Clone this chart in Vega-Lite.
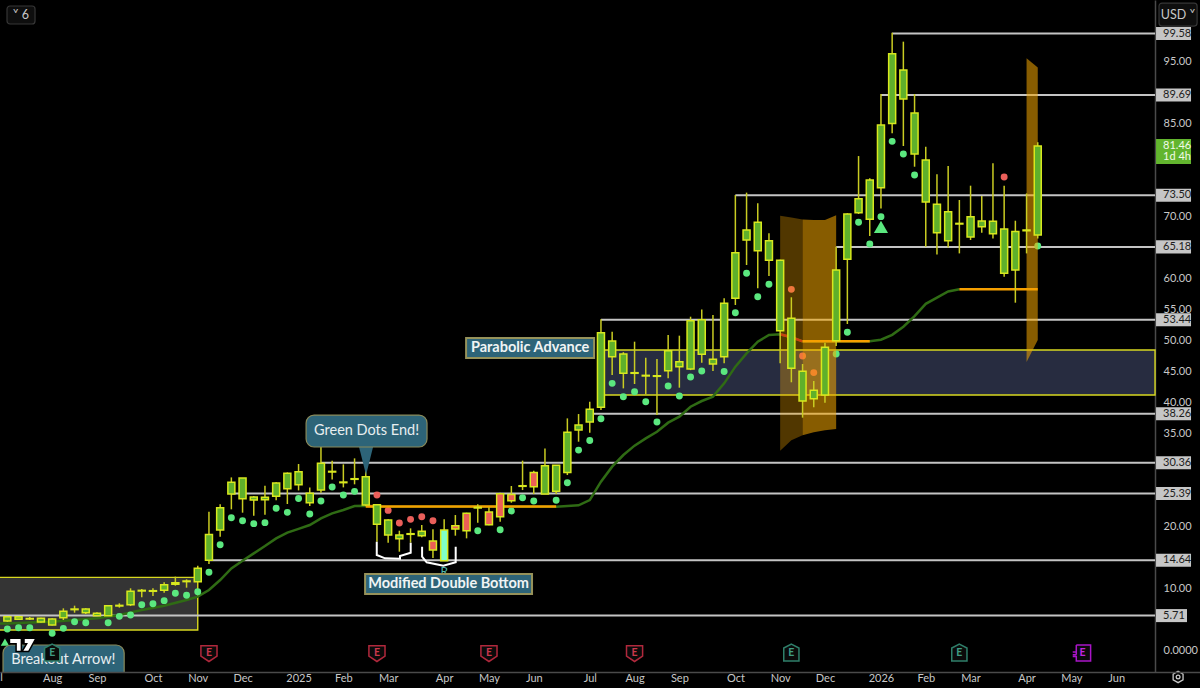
{
"$schema":"https://vega.github.io/schema/vega-lite/v6.json",
"width":1200,"height":688,"autosize":{"type":"none"},"padding":0,"background":"#000000",
"config":{"view":{"stroke":null},"axis":{"grid":false}},
"datasets":{
"boxes":[
{"date":"2024-06-20","date2":"2024-11-04","value":11.88,"value2":3.39,"zone":"base"},
{"date":"2025-07-14","date2":"2026-06-25T07:00:00Z","value":48.56,"value2":41.29,"zone":"parabolic"}],
"levels":[
{"date":"2026-01-12","date2":"2026-06-25T07:00:00Z","value":99.58},
{"date":"2026-01-05","date2":"2026-06-25T07:00:00Z","value":89.69},
{"date":"2025-10-06","date2":"2026-06-25T07:00:00Z","value":73.5},
{"date":"2025-12-08","date2":"2026-06-25T07:00:00Z","value":65.18},
{"date":"2025-07-14","date2":"2026-06-25T07:00:00Z","value":53.44},
{"date":"2025-07-07","date2":"2026-06-25T07:00:00Z","value":38.26},
{"date":"2025-01-20","date2":"2026-06-25T07:00:00Z","value":30.36},
{"date":"2024-11-25","date2":"2026-06-25T07:00:00Z","value":25.39},
{"date":"2024-11-11","date2":"2026-06-25T07:00:00Z","value":14.64},
{"date":"2024-07-03T09:36:00Z","date2":"2026-06-25T07:00:00Z","value":5.71}],
"ma":[
{"date":"2024-07-01","value":4.4},{"date":"2024-07-08","value":4.45},{"date":"2024-07-22","value":4.6},{"date":"2024-08-05","value":4.73},{"date":"2024-08-19","value":5.0},{"date":"2024-09-02","value":5.27},{"date":"2024-09-16","value":5.8},{"date":"2024-09-30","value":6.61},{"date":"2024-10-14","value":7.31},{"date":"2024-10-28","value":8.22},{"date":"2024-11-04","value":8.76},{"date":"2024-11-11","value":9.84},{"date":"2024-11-18","value":11.45},{"date":"2024-11-25","value":13.33},{"date":"2024-12-02","value":14.57},{"date":"2024-12-09","value":15.75},{"date":"2024-12-16","value":16.93},{"date":"2024-12-23","value":18.17},{"date":"2024-12-30","value":19.1},{"date":"2025-01-06","value":19.7},{"date":"2025-01-13","value":20.32},{"date":"2025-01-20","value":21.4},{"date":"2025-01-27","value":22.2},{"date":"2025-02-03","value":22.74},{"date":"2025-02-10","value":23.38},{"date":"2025-02-17","value":23.44},{"date":"2025-02-24","value":23.3},{"date":"2025-06-16","value":23.28},{"date":"2025-06-23","value":23.39},{"date":"2025-06-30","value":23.5},{"date":"2025-07-07","value":24.35},{"date":"2025-07-14","value":27.31},{"date":"2025-07-21","value":29.73},{"date":"2025-07-28","value":31.61},{"date":"2025-08-04","value":33.12},{"date":"2025-08-11","value":34.3},{"date":"2025-08-18","value":35.37},{"date":"2025-08-25","value":36.83},{"date":"2025-09-01","value":37.79},{"date":"2025-09-08","value":39.4},{"date":"2025-09-15","value":40.32},{"date":"2025-09-22","value":41.02},{"date":"2025-09-29","value":43.17},{"date":"2025-10-06","value":45.86},{"date":"2025-10-13","value":48.0},{"date":"2025-10-20","value":49.9},{"date":"2025-10-27","value":50.97},{"date":"2025-11-03","value":51.08},{"date":"2025-11-10","value":50.6},{"date":"2025-11-17","value":49.95},{"date":"2025-12-29","value":49.95},{"date":"2026-01-05","value":50.2},{"date":"2026-01-12","value":51.0},{"date":"2026-01-19","value":52.3},{"date":"2026-01-26","value":54.0},{"date":"2026-02-02","value":56.0},{"date":"2026-02-09","value":57.0},{"date":"2026-02-16","value":58.0},{"date":"2026-02-23","value":58.33}],
"dots":[
{"date":"2024-07-08","value":3.55,"kind":"bull"},{"date":"2024-07-15","value":3.76,"kind":"bull"},{"date":"2024-07-22","value":3.76,"kind":"bull"},{"date":"2024-08-05","value":2.85,"kind":"bull"},{"date":"2024-08-12","value":3.65,"kind":"bull"},{"date":"2024-08-19","value":4.73,"kind":"bull"},{"date":"2024-08-26","value":4.57,"kind":"bull"},{"date":"2024-09-09","value":4.57,"kind":"bull"},{"date":"2024-09-16","value":5.59,"kind":"bull"},{"date":"2024-09-23","value":5.8,"kind":"bull"},{"date":"2024-09-30","value":7.47,"kind":"bull"},{"date":"2024-10-07","value":7.63,"kind":"bull"},{"date":"2024-10-14","value":8.12,"kind":"bull"},{"date":"2024-10-21","value":9.3,"kind":"bull"},{"date":"2024-10-28","value":8.98,"kind":"bull"},{"date":"2024-11-04","value":9.57,"kind":"bull"},{"date":"2024-11-11","value":12.69,"kind":"bull"},{"date":"2024-11-18","value":17.15,"kind":"bull"},{"date":"2024-11-25","value":21.5,"kind":"bull"},{"date":"2024-12-02","value":21.02,"kind":"bull"},{"date":"2024-12-09","value":20.54,"kind":"bull"},{"date":"2024-12-16","value":20.7,"kind":"bull"},{"date":"2024-12-23","value":23.01,"kind":"bull"},{"date":"2024-12-30","value":22.36,"kind":"bull"},{"date":"2025-01-06","value":24.6,"kind":"bull"},{"date":"2025-01-13","value":22.09,"kind":"bull"},{"date":"2025-01-20","value":24.19,"kind":"bull"},{"date":"2025-01-27","value":26.45,"kind":"bull"},{"date":"2025-02-03","value":25.16,"kind":"bull"},{"date":"2025-02-10","value":25.75,"kind":"bull"},{"date":"2025-02-24","value":25.16,"kind":"bear"},{"date":"2025-03-03","value":22.68,"kind":"bear"},{"date":"2025-03-10","value":20.64,"kind":"bear"},{"date":"2025-03-17","value":21.23,"kind":"bear"},{"date":"2025-03-24","value":21.66,"kind":"bear"},{"date":"2025-03-31","value":21.02,"kind":"bear"},{"date":"2025-04-28","value":19.4,"kind":"bull"},{"date":"2025-05-12","value":19.57,"kind":"bull"},{"date":"2025-05-19","value":22.58,"kind":"bull"},{"date":"2025-05-26","value":24.73,"kind":"bull"},{"date":"2025-06-02","value":24.19,"kind":"bull"},{"date":"2025-06-16","value":24.3,"kind":"bull"},{"date":"2025-06-23","value":27.15,"kind":"bull"},{"date":"2025-06-30","value":32.4,"kind":"bull"},{"date":"2025-07-07","value":33.95,"kind":"bull"},{"date":"2025-07-14","value":37.47,"kind":"bull"},{"date":"2025-07-21","value":43.17,"kind":"bull"},{"date":"2025-07-28","value":41.02,"kind":"bull"},{"date":"2025-08-04","value":41.82,"kind":"bull"},{"date":"2025-08-11","value":40.21,"kind":"bull"},{"date":"2025-08-18","value":36.93,"kind":"bull"},{"date":"2025-08-25","value":42.74,"kind":"bull"},{"date":"2025-09-01","value":41.13,"kind":"bull"},{"date":"2025-09-08","value":44.19,"kind":"bull"},{"date":"2025-09-15","value":45.16,"kind":"bull"},{"date":"2025-09-29","value":45.08,"kind":"bull"},{"date":"2025-10-06","value":54.55,"kind":"bull"},{"date":"2025-10-13","value":60.92,"kind":"bull"},{"date":"2025-10-20","value":57.15,"kind":"bull"},{"date":"2025-10-27","value":59.14,"kind":"bull"},{"date":"2025-11-10","value":58.33,"kind":"bear"},{"date":"2025-11-17","value":47.58,"kind":"bear"},{"date":"2025-11-24","value":44.9,"kind":"bear"},{"date":"2025-12-08","value":47.9,"kind":"bull"},{"date":"2025-12-15","value":51.4,"kind":"bull"},{"date":"2025-12-22","value":69.14,"kind":"bull"},{"date":"2025-12-29","value":65.65,"kind":"bull"},{"date":"2026-01-05","value":70.06,"kind":"bull"},{"date":"2026-01-12","value":82.2,"kind":"bull"},{"date":"2026-01-19","value":80.16,"kind":"bull"},{"date":"2026-01-26","value":76.77,"kind":"bull"},{"date":"2026-03-23","value":76.45,"kind":"bear"},{"date":"2026-04-13","value":65.32,"kind":"bull"}],
"bands":[
{"date":"2025-11-03","value":70.2,"value2":32.3,"band":"a","tone":"dark"},{"date":"2025-11-10","value":69.9,"value2":34.0,"band":"a","tone":"dark"},{"date":"2025-11-17","value":69.6,"value2":34.8,"band":"a","tone":"dark"},
{"date":"2025-11-17","value":69.6,"value2":34.8,"band":"b","tone":"light"},{"date":"2025-11-24","value":69.5,"value2":35.3,"band":"b","tone":"light"},{"date":"2025-12-01","value":69.5,"value2":35.6,"band":"b","tone":"light"},{"date":"2025-12-08","value":70.3,"value2":35.8,"band":"b","tone":"light"},
{"date":"2026-04-06","value":95.6,"value2":46.6,"band":"c","tone":"light"},{"date":"2026-04-13","value":94.1,"value2":50.16,"band":"c","tone":"light"}],
"alerts":[
{"date":"2025-02-17","date2":"2025-06-16","value":23.3},
{"date":"2025-11-17","date2":"2025-12-29","value":49.95},
{"date":"2026-02-23","date2":"2026-04-13","value":58.33}],
"alertLead":[
{"date":"2025-02-17","value":23.44,"seg":"a"},{"date":"2025-02-24","value":23.3,"seg":"a"},
{"date":"2025-11-03","value":51.08,"seg":"b"},{"date":"2025-11-10","value":50.6,"seg":"b"},{"date":"2025-11-17","value":49.95,"seg":"b"}],
"candles":[
{"date":"2024-07-08","open":4.84,"high":5.6,"low":4.7,"close":5.54,"kind":"up"},
{"date":"2024-07-15","open":5.11,"high":5.6,"low":5.0,"close":5.54,"kind":"up"},
{"date":"2024-07-22","open":5.15,"high":5.48,"low":5.0,"close":5.25,"kind":"up"},
{"date":"2024-07-29","open":4.67,"high":5.35,"low":4.6,"close":5.27,"kind":"up"},
{"date":"2024-08-05","open":4.19,"high":5.3,"low":4.1,"close":5.16,"kind":"up"},
{"date":"2024-08-12","open":5.37,"high":6.88,"low":5.0,"close":6.4,"kind":"up"},
{"date":"2024-08-19","open":6.67,"high":7.31,"low":6.18,"close":6.77,"kind":"up"},
{"date":"2024-08-26","open":6.18,"high":6.88,"low":5.96,"close":6.77,"kind":"up"},
{"date":"2024-09-02","open":5.7,"high":6.23,"low":5.7,"close":6.07,"kind":"up"},
{"date":"2024-09-09","open":5.7,"high":7.42,"low":5.7,"close":7.31,"kind":"up"},
{"date":"2024-09-16","open":7.26,"high":7.69,"low":6.99,"close":7.36,"kind":"up"},
{"date":"2024-09-23","open":7.47,"high":10.11,"low":7.25,"close":9.62,"kind":"up"},
{"date":"2024-09-30","open":9.68,"high":10.0,"low":8.65,"close":9.78,"kind":"up"},
{"date":"2024-10-07","open":9.63,"high":10.11,"low":8.87,"close":9.73,"kind":"up"},
{"date":"2024-10-14","open":9.78,"high":11.07,"low":9.41,"close":10.7,"kind":"up"},
{"date":"2024-10-21","open":10.75,"high":11.99,"low":10.53,"close":11.02,"kind":"up"},
{"date":"2024-10-28","open":11.19,"high":11.56,"low":10.21,"close":11.29,"kind":"up"},
{"date":"2024-11-04","open":11.18,"high":13.76,"low":11.18,"close":13.33,"kind":"up"},
{"date":"2024-11-11","open":14.62,"high":22.47,"low":14.03,"close":18.81,"kind":"up"},
{"date":"2024-11-18","open":19.51,"high":23.65,"low":18.44,"close":23.12,"kind":"up"},
{"date":"2024-11-25","open":25.32,"high":28.0,"low":22.85,"close":27.2,"kind":"up"},
{"date":"2024-12-02","open":24.57,"high":27.9,"low":22.31,"close":27.9,"kind":"up"},
{"date":"2024-12-09","open":24.35,"high":25.0,"low":21.83,"close":24.84,"kind":"up"},
{"date":"2024-12-16","open":24.41,"high":26.67,"low":21.99,"close":24.78,"kind":"up"},
{"date":"2024-12-23","open":24.94,"high":27.2,"low":24.3,"close":27.09,"kind":"up"},
{"date":"2024-12-30","open":26.18,"high":28.8,"low":23.71,"close":28.65,"kind":"up"},
{"date":"2025-01-06","open":26.83,"high":30.16,"low":25.9,"close":28.92,"kind":"up"},
{"date":"2025-01-13","open":23.92,"high":26.39,"low":23.38,"close":25.43,"kind":"up"},
{"date":"2025-01-20","open":25.96,"high":33.33,"low":25.53,"close":30.27,"kind":"up"},
{"date":"2025-01-27","open":28.87,"high":30.7,"low":27.68,"close":28.97,"kind":"up"},
{"date":"2025-02-03","open":27.15,"high":30.1,"low":26.39,"close":27.25,"kind":"up"},
{"date":"2025-02-10","open":27.69,"high":31.07,"low":26.88,"close":27.79,"kind":"up"},
{"date":"2025-02-17","open":23.54,"high":29.46,"low":23.4,"close":28.11,"kind":"up"},
{"date":"2025-02-24","open":20.43,"high":23.7,"low":17.63,"close":23.6,"kind":"up"},
{"date":"2025-03-03","open":18.71,"high":21.23,"low":17.47,"close":21.12,"kind":"up"},
{"date":"2025-03-10","open":18.12,"high":19.4,"low":16.02,"close":18.71,"kind":"up"},
{"date":"2025-03-17","open":18.82,"high":19.78,"low":17.47,"close":18.92,"kind":"up"},
{"date":"2025-03-24","open":18.6,"high":20.32,"low":18.33,"close":19.3,"kind":"up"},
{"date":"2025-03-31","open":17.74,"high":19.62,"low":15.0,"close":16.29,"kind":"down"},
{"date":"2025-04-07","open":14.57,"high":21.23,"low":14.57,"close":19.51,"kind":"reversal"},
{"date":"2025-04-14","open":20.21,"high":21.93,"low":18.6,"close":19.67,"kind":"down"},
{"date":"2025-04-21","open":22.2,"high":22.3,"low":18.17,"close":19.4,"kind":"down"},
{"date":"2025-04-28","open":23.07,"high":23.65,"low":20.69,"close":23.17,"kind":"up"},
{"date":"2025-05-05","open":22.42,"high":23.17,"low":20.3,"close":20.37,"kind":"down"},
{"date":"2025-05-12","open":25.37,"high":25.53,"low":20.86,"close":21.66,"kind":"down"},
{"date":"2025-05-19","open":25.26,"high":26.61,"low":23.92,"close":24.24,"kind":"down"},
{"date":"2025-05-26","open":26.56,"high":30.7,"low":25.96,"close":26.66,"kind":"up"},
{"date":"2025-06-02","open":28.81,"high":29.08,"low":25.32,"close":26.5,"kind":"down"},
{"date":"2025-06-09","open":25.32,"high":32.68,"low":25.32,"close":29.89,"kind":"up"},
{"date":"2025-06-16","open":25.75,"high":29.94,"low":25.32,"close":29.94,"kind":"up"},
{"date":"2025-06-23","open":28.81,"high":37.52,"low":28.38,"close":35.27,"kind":"up"},
{"date":"2025-06-30","open":35.64,"high":38.22,"low":33.76,"close":36.45,"kind":"up"},
{"date":"2025-07-07","open":36.93,"high":40.21,"low":35.21,"close":38.98,"kind":"up"},
{"date":"2025-07-14","open":39.3,"high":53.49,"low":38.87,"close":51.34,"kind":"up"},
{"date":"2025-07-21","open":47.47,"high":51.5,"low":44.51,"close":50.0,"kind":"up"},
{"date":"2025-07-28","open":44.78,"high":48.2,"low":42.36,"close":47.9,"kind":"up"},
{"date":"2025-08-04","open":44.79,"high":49.89,"low":43.06,"close":44.89,"kind":"up"},
{"date":"2025-08-11","open":44.36,"high":47.31,"low":41.4,"close":44.46,"kind":"up"},
{"date":"2025-08-18","open":44.3,"high":47.09,"low":38.06,"close":44.4,"kind":"up"},
{"date":"2025-08-25","open":45.21,"high":50.96,"low":43.98,"close":48.44,"kind":"up"},
{"date":"2025-09-01","open":45.86,"high":50.86,"low":42.47,"close":46.66,"kind":"up"},
{"date":"2025-09-08","open":45.48,"high":53.92,"low":45.3,"close":53.28,"kind":"up"},
{"date":"2025-09-15","open":47.85,"high":55.1,"low":46.5,"close":53.44,"kind":"up"},
{"date":"2025-09-22","open":46.29,"high":54.19,"low":45.16,"close":47.04,"kind":"up"},
{"date":"2025-09-29","open":47.47,"high":56.88,"low":46.4,"close":56.08,"kind":"up"},
{"date":"2025-10-06","open":56.88,"high":73.55,"low":55.81,"close":64.25,"kind":"up"},
{"date":"2025-10-13","open":66.29,"high":73.93,"low":62.26,"close":67.9,"kind":"up"},
{"date":"2025-10-20","open":64.57,"high":72.2,"low":58.5,"close":69.14,"kind":"up"},
{"date":"2025-10-27","open":63.01,"high":67.37,"low":60.49,"close":66.18,"kind":"up"},
{"date":"2025-11-03","open":51.67,"high":63.1,"low":46.4,"close":63.01,"kind":"up"},
{"date":"2025-11-10","open":45.59,"high":57.05,"low":43.34,"close":53.66,"kind":"up"},
{"date":"2025-11-17","open":40.32,"high":46.29,"low":37.64,"close":45.11,"kind":"up"},
{"date":"2025-11-24","open":40.7,"high":43.55,"low":39.3,"close":42.05,"kind":"up"},
{"date":"2025-12-01","open":41.29,"high":49.73,"low":40.06,"close":48.98,"kind":"up"},
{"date":"2025-12-08","open":50.06,"high":65.22,"low":49.2,"close":61.45,"kind":"up"},
{"date":"2025-12-15","open":63.17,"high":70.6,"low":52.74,"close":70.48,"kind":"up"},
{"date":"2025-12-22","open":70.69,"high":79.83,"low":70.48,"close":72.95,"kind":"up"},
{"date":"2025-12-29","open":69.62,"high":76.23,"low":66.93,"close":75.96,"kind":"up"},
{"date":"2026-01-05","open":74.73,"high":89.83,"low":71.39,"close":84.83,"kind":"up"},
{"date":"2026-01-12","open":85.1,"high":99.73,"low":83.49,"close":96.34,"kind":"up"},
{"date":"2026-01-19","open":89.03,"high":98.28,"low":81.45,"close":93.71,"kind":"up"},
{"date":"2026-01-26","open":80.16,"high":89.83,"low":78.11,"close":86.77,"kind":"up"},
{"date":"2026-02-02","open":72.42,"high":81.34,"low":65.21,"close":79.19,"kind":"up"},
{"date":"2026-02-09","open":67.47,"high":76.88,"low":63.97,"close":72.04,"kind":"up"},
{"date":"2026-02-16","open":66.18,"high":78.22,"low":65.1,"close":70.86,"kind":"up"},
{"date":"2026-02-23","open":68.87,"high":72.74,"low":64.13,"close":68.97,"kind":"up"},
{"date":"2026-03-02","open":66.77,"high":75.05,"low":66.29,"close":70.05,"kind":"up"},
{"date":"2026-03-09","open":68.44,"high":73.38,"low":67.47,"close":69.35,"kind":"up"},
{"date":"2026-03-16","open":67.31,"high":78.65,"low":66.55,"close":69.3,"kind":"up"},
{"date":"2026-03-23","open":60.91,"high":75.05,"low":60.37,"close":68.06,"kind":"up"},
{"date":"2026-03-30","open":61.45,"high":69.4,"low":56.18,"close":67.68,"kind":"up"},
{"date":"2026-04-06","open":67.8,"high":73.8,"low":64.13,"close":67.9,"kind":"up"},
{"date":"2026-04-13","open":67.09,"high":82.04,"low":66.55,"close":81.45,"kind":"up"}],
"braces":[
{"date":"2025-02-23T21:00:00Z","value":17.63,"brace":"a","step":1},{"date":"2025-02-23T21:00:00Z","value":15.48,"brace":"a","step":2},{"date":"2025-03-01T02:00:00Z","value":14.94,"brace":"a","step":3},{"date":"2025-03-10T10:00:00Z","value":14.89,"brace":"a","step":4},{"date":"2025-03-10T10:00:00Z","value":15.32,"brace":"a","step":5},{"date":"2025-03-17T02:00:00Z","value":15.86,"brace":"a","step":6},{"date":"2025-03-17T02:00:00Z","value":17.47,"brace":"a","step":7},
{"date":"2025-03-24T05:00:00Z","value":16.82,"brace":"b","step":1},{"date":"2025-03-24T05:00:00Z","value":15.21,"brace":"b","step":2},{"date":"2025-03-27T02:00:00Z","value":14.3,"brace":"b","step":3},{"date":"2025-04-06T12:00:00Z","value":13.76,"brace":"b","step":4},{"date":"2025-04-14T05:00:00Z","value":14.3,"brace":"b","step":5},{"date":"2025-04-14T05:00:00Z","value":16.82,"brace":"b","step":6}],
"pointer":[
{"date":"2025-02-12T19:00:00Z","value":32.9,"value2":32.9},{"date":"2025-02-17T05:00:00Z","value":32.9,"value2":28.39},{"date":"2025-02-21T14:00:00Z","value":32.9,"value2":32.9}],
"roundBoxes":[
{"date":"2025-01-10T17:00:00Z","date2":"2025-03-27T07:00:00Z","value":38.06,"value2":32.9},
{"date":"2024-07-05T07:00:00Z","date2":"2024-09-19","value":0.97,"value2":-5}],
"squareBoxes":[
{"date":"2025-02-16T14:00:00Z","date2":"2025-05-31T22:00:00Z","value":12.42,"value2":9.19},
{"date":"2025-04-20T17:00:00Z","date2":"2025-07-09T17:00:00Z","value":50.48,"value2":47.26}],
"notesPlain":[
{"date":"2025-02-17T12:00:00Z","value":35.5,"label":"Green Dots End!"},
{"date":"2024-08-12","value":-1.5,"label":"Breakout Arrow!"}],
"notesBold":[
{"date":"2025-04-09T18:00:00Z","value":10.8,"label":"Modified Double Bottom"},
{"date":"2025-05-30T17:00:00Z","value":48.87,"label":"Parabolic Advance"}],
"rLetter":[{"date":"2025-04-07T00:00:00Z","value":12.9,"label":"R"}],
"arrows":[{"date":"2024-07-06T12:00:00Z","value":1.45,"mark":"small"},{"date":"2026-01-05","value":68.4,"mark":"large"}],
"earnings":[
{"date":"2024-08-05","value":-0.32,"kind":"beat"},{"date":"2024-11-11","value":-0.32,"kind":"miss"},{"date":"2025-02-24","value":-0.32,"kind":"miss"},{"date":"2025-05-05","value":-0.32,"kind":"miss"},{"date":"2025-08-04","value":-0.32,"kind":"miss"},{"date":"2025-11-10","value":-0.32,"kind":"beat"},{"date":"2026-02-23","value":-0.32,"kind":"beat"},{"date":"2026-05-11","value":-0.32,"kind":"next"}],
"logo":[{"date":"2024-07-17T14:00:00Z","value":0.97}],
"panel":[{"date":"2024-06-20","date2":"2026-08-01","value":-3.39,"value2":-7}],
"edgeMonth":[{"date":"2024-07-01","value":-4.3,"label":"Jul"}],
"badges":[
{"date":"2026-06-25T22:00:00Z","date2":"2026-07-17T19:00:00Z","value":100.63,"value2":98.53},
{"date":"2026-06-25T22:00:00Z","date2":"2026-07-17T19:00:00Z","value":90.74,"value2":88.64},
{"date":"2026-06-25T22:00:00Z","date2":"2026-07-17T19:00:00Z","value":74.55,"value2":72.45},
{"date":"2026-06-25T22:00:00Z","date2":"2026-07-17T19:00:00Z","value":66.23,"value2":64.13},
{"date":"2026-06-25T22:00:00Z","date2":"2026-07-17T19:00:00Z","value":54.49,"value2":52.39},
{"date":"2026-06-25T22:00:00Z","date2":"2026-07-17T19:00:00Z","value":39.31,"value2":37.21},
{"date":"2026-06-25T22:00:00Z","date2":"2026-07-17T19:00:00Z","value":31.41,"value2":29.31},
{"date":"2026-06-25T22:00:00Z","date2":"2026-07-17T19:00:00Z","value":26.44,"value2":24.34},
{"date":"2026-06-25T22:00:00Z","date2":"2026-07-17T19:00:00Z","value":15.69,"value2":13.59},
{"date":"2026-06-25T22:00:00Z","date2":"2026-07-15T07:00:00Z","value":6.76,"value2":4.66}],
"badgeText":[
{"date":"2026-06-30T07:00:00Z","value":99.58,"label":"99.58"},{"date":"2026-06-30T07:00:00Z","value":89.69,"label":"89.69"},{"date":"2026-06-30T07:00:00Z","value":73.5,"label":"73.50"},{"date":"2026-06-30T07:00:00Z","value":65.18,"label":"65.18"},{"date":"2026-06-30T07:00:00Z","value":53.44,"label":"53.44"},{"date":"2026-06-30T07:00:00Z","value":38.26,"label":"38.26"},{"date":"2026-06-30T07:00:00Z","value":30.36,"label":"30.36"},{"date":"2026-06-30T07:00:00Z","value":25.39,"label":"25.39"},{"date":"2026-06-30T07:00:00Z","value":14.64,"label":"14.64"},{"date":"2026-06-30T07:00:00Z","value":5.71,"label":"5.71"}],
"lastBox":[{"date":"2026-06-25T22:00:00Z","date2":"2026-07-17T19:00:00Z","value":82.58,"value2":78.55}],
"lastText":[{"date":"2026-06-30T07:00:00Z","value":81.5,"label":"81.46"},{"date":"2026-06-30T07:00:00Z","value":79.68,"label":"1d 4h"}],
"buttons":[
{"date":"2024-07-07T19:00:00Z","date2":"2024-07-25T07:00:00Z","value":104.03,"value2":101.13},
{"date":"2026-06-27T19:00:00Z","date2":"2026-07-21T14:00:00Z","value":104.5,"value2":100.8}],
"buttonText":[
{"date":"2024-07-16T12:00:00Z","value":102.58,"label":"˅ 6"},
{"date":"2026-07-09T17:00:00Z","value":102.66,"label":"USD ˅"}],
"gear":[{"date":"2026-07-09T17:00:00Z","value":-4.19}]
},
"encoding":{
"x":{"field":"date","type":"temporal","title":null,
"scale":{"type":"utc","domain":[1719999360000,1784799360000],"padding":0,"nice":false},
"axis":{"orient":"bottom","offset":-16,"zindex":1,"ticks":false,"domainColor":"#4a4a4a","domainWidth":1.5,"labelColor":"#c8c8c8","labelFont":"Lato","labelFontSize":11,"labelPadding":0,"labelOverlap":false,"labelBound":false,"labelFlush":false,
"values":[1722816000000,1725235200000,1728259200000,1730678400000,1733097600000,1736121600000,1738540800000,1740960000000,1743984000000,1746403200000,1748822400000,1751846400000,1754265600000,1756684800000,1759708800000,1762128000000,1764547200000,1767571200000,1769990400000,1772409600000,1775433600000,1777852800000,1780272000000],
"labelExpr":"utcmonth(datum.value)==0?utcFormat(datum.value,'%Y'):utcFormat(datum.value,'%b')"}},
"y":{"field":"value","type":"quantitative","title":null,
"scale":{"domain":[-5.968,105],"nice":false,"zero":false},
"axis":{"orient":"right","offset":-45,"zindex":0,"ticks":false,"domainColor":"#4a4a4a","domainWidth":1.5,"labelColor":"#c8c8c8","labelFont":"Lato","labelFontSize":11,"labelPadding":8,"labelOverlap":false,"labelAlign":"left",
"values":[0,10,20,35,40,45,50,55,60,70,85,95],
"labelExpr":"datum.value===0?'0.0000':format(datum.value,'.2f')"}}
},
"layer":[
{"data":{"name":"boxes"},"mark":{"type":"rect","strokeWidth":1.4,"stroke":"#d8d820","clip":true},"encoding":{"x2":{"field":"date2"},"y2":{"field":"value2"},"fill":{"field":"zone","type":"nominal","legend":null,"scale":{"domain":["base","parabolic","up","down","reversal"],"range":["#343434","#272c40","#5fb02b","#ec5f56","#7fffc8"]}}}},
{"data":{"name":"levels"},"mark":{"type":"rule","color":"#c4c4c4","strokeWidth":2},"encoding":{"x2":{"field":"date2"}}},
{"data":{"name":"ma"},"mark":{"type":"line","color":"#2f6b14","strokeWidth":2.5,"clip":true},"encoding":{}},
{"data":{"name":"dots"},"mark":{"type":"point","filled":true,"size":48,"opacity":1,"shape":"circle"},"encoding":{"color":{"field":"kind","type":"nominal","legend":null,"scale":{"domain":["bull","bear","beat","miss","next"],"range":["#5be87f","#ea5f5a","#3f9c84","#c9384c","#c025e0"]}}}},
{"data":{"name":"bands"},"mark":{"type":"area","color":"#f5a800"},"encoding":{"y2":{"field":"value2"},"detail":{"field":"band","type":"nominal"},"opacity":{"field":"tone","type":"nominal","legend":null,"scale":{"domain":["dark","light"],"range":[0.33,0.55]}}}},
{"data":{"name":"alertLead"},"mark":{"type":"line","color":"#c8430f","strokeWidth":2.5},"encoding":{"detail":{"field":"seg","type":"nominal"}}},
{"data":{"name":"alerts"},"mark":{"type":"rule","color":"#f59f00","strokeWidth":2.5},"encoding":{"x2":{"field":"date2"}}},
{"data":{"name":"candles"},"mark":{"type":"rule","color":"#c9cc22","strokeWidth":1.5},"encoding":{"y":{"field":"high","type":"quantitative"},"y2":{"field":"low"}}},
{"data":{"name":"candles"},"mark":{"type":"bar","size":7,"stroke":"#d8e81e","strokeWidth":1.5},"encoding":{"y":{"field":"open","type":"quantitative"},"y2":{"field":"close"},"fill":{"field":"kind","type":"nominal","legend":null,"scale":{"domain":["base","parabolic","up","down","reversal"],"range":["#343434","#272c40","#5fb02b","#ec5f56","#7fffc8"]}}}},
{"data":{"name":"braces"},"mark":{"type":"line","color":"#ffffff","strokeWidth":2},"encoding":{"detail":{"field":"brace","type":"nominal"},"order":{"field":"step","type":"quantitative"}}},
{"data":{"name":"rLetter"},"mark":{"type":"text","color":"#4fb8a8","font":"Lato","fontSize":12},"encoding":{"text":{"field":"label"}}},
{"data":{"name":"arrows"},"mark":{"type":"point","filled":true,"shape":"triangle-up","color":"#5be87f","opacity":1},"encoding":{"size":{"field":"mark","type":"nominal","legend":null,"scale":{"domain":["small","large"],"range":[70,200]}}}},
{"data":{"name":"pointer"},"mark":{"type":"area","color":"#2d6478"},"encoding":{"y2":{"field":"value2"}}},
{"data":{"name":"roundBoxes"},"mark":{"type":"rect","fill":"#2d6478","stroke":"#8a8a5a","strokeWidth":1.2,"cornerRadius":8},"encoding":{"x2":{"field":"date2"},"y2":{"field":"value2"}}},
{"data":{"name":"squareBoxes"},"mark":{"type":"rect","fill":"#2d6478","stroke":"#96925a","strokeWidth":2},"encoding":{"x2":{"field":"date2"},"y2":{"field":"value2"}}},
{"data":{"name":"notesPlain"},"mark":{"type":"text","color":"#e8eef0","font":"Lato","fontSize":14.5},"encoding":{"text":{"field":"label"}}},
{"data":{"name":"notesBold"},"mark":{"type":"text","color":"#f0f4f4","font":"Lato","fontSize":14.5,"fontWeight":"bold"},"encoding":{"text":{"field":"label"}}},
{"data":{"name":"earnings"},"mark":{"type":"point","filled":true,"fill":"#0a0a0a","strokeWidth":1.5,"opacity":1,"size":320},"encoding":{"stroke":{"field":"kind","type":"nominal","legend":null,"scale":{"domain":["beat","miss","next"],"range":["#2f7f6a","#b0283c","#a914c8"]}},"shape":{"field":"kind","type":"nominal","legend":null,"scale":{"domain":["beat","miss","next"],"range":["M0,-1L.85,-.55V.9H-.85V-.55Z","M-.9,-.8H.9V.35L0,.95L-.9,.35Z","M-.7,-.9H.9V.9H-.7V.4H-1.1M-.7,.2H-1.1M-.7,-.1H-1.1M-.7,.2V-.9"]}}}},
{"data":{"name":"earnings"},"mark":{"type":"text","font":"Lato","fontSize":10.5,"fontWeight":"bold","text":"E"},"encoding":{"color":{"field":"kind","type":"nominal","legend":null,"scale":{"domain":["bull","bear","beat","miss","next"],"range":["#5be87f","#ea5f5a","#3f9c84","#c9384c","#c025e0"]}}}},
{"data":{"name":"logo"},"mark":{"type":"point","filled":true,"fill":"#ffffff","stroke":"#000000","strokeWidth":1.5,"opacity":1,"size":700,"shape":"M-1,-.5H-.1V.5H-.5V-.1H-1ZM.1,-.5H1L.45,.5H-.05L.3,-.1H.1Z"},"encoding":{}},
{"data":{"name":"panel"},"mark":{"type":"rect","fill":"#000000","clip":true},"encoding":{"x2":{"field":"date2"},"y2":{"field":"value2"}}},
{"data":{"name":"edgeMonth"},"mark":{"type":"text","color":"#c8c8c8","font":"Lato","fontSize":11},"encoding":{"text":{"field":"label"}}},
{"data":{"name":"badges"},"mark":{"type":"rect","fill":"#c6c6c6"},"encoding":{"x2":{"field":"date2"},"y2":{"field":"value2"}}},
{"data":{"name":"badgeText"},"mark":{"type":"text","align":"left","color":"#1c1c1c","font":"Lato","fontSize":11},"encoding":{"text":{"field":"label"}}},
{"data":{"name":"lastBox"},"mark":{"type":"rect","fill":"#62b52e"},"encoding":{"x2":{"field":"date2"},"y2":{"field":"value2"}}},
{"data":{"name":"lastText"},"mark":{"type":"text","align":"left","color":"#f2fbe8","font":"Lato","fontSize":11},"encoding":{"text":{"field":"label"}}},
{"data":{"name":"buttons"},"mark":{"type":"rect","fill":"#0e0e0e","stroke":"#363636","strokeWidth":1.2,"cornerRadius":3},"encoding":{"x2":{"field":"date2"},"y2":{"field":"value2"}}},
{"data":{"name":"buttonText"},"mark":{"type":"text","color":"#c8c8c8","font":"Lato","fontSize":12.5},"encoding":{"text":{"field":"label"}}},
{"data":{"name":"gear"},"mark":{"type":"point","filled":false,"stroke":"#c8c8c8","strokeWidth":1.3,"opacity":1,"size":130,"shape":"M0,-1L.87,-.5V.5L0,1L-.87,.5V-.5Z"},"encoding":{}},
{"data":{"name":"gear"},"mark":{"type":"point","filled":false,"stroke":"#c8c8c8","strokeWidth":1.3,"opacity":1,"size":14,"shape":"circle"},"encoding":{}}
]
}
